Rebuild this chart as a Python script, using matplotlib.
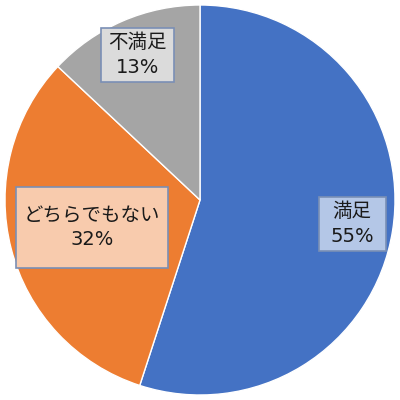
import numpy as np
import matplotlib.pyplot as plt

plt.rcParams['font.family'] = ['DejaVu Sans', 'Noto Sans CJK JP']

labels = ["満足", "どちらでもない", "不満足"]
values = [55, 32, 13]
colors = ["#4472C4", "#ED7D31", "#A5A5A5"]
box_colors = ["#B4C7E7", "#F8CBAD", "#DBDBDB"]
label_radius = [0.79, 0.57, 0.81]
# padding of each label box (horizontal pad, vertical stretch)
box_pad = [0.6, 0.4, 0.36]
box_aspect = [0.45, 2.4, 0.8]

fig = plt.figure(figsize=(4, 4), dpi=100)
ax = fig.add_axes([0, 0, 1, 1])

wedges, _ = ax.pie(values, colors=colors, startangle=90, counterclock=False,
                   radius=1, wedgeprops=dict(edgecolor="white", linewidth=1))

for w, lab, v, bc, r, p, a in zip(wedges, labels, values, box_colors,
                                  label_radius, box_pad, box_aspect):
    ang = np.deg2rad((w.theta1 + w.theta2) / 2)
    x, y = r * np.cos(ang), r * np.sin(ang)
    ax.text(x, y, f"{lab}\n{v}%", ha="center", va="center", fontsize=14,
            color="#1a1a1a", linespacing=1.35,
            bbox=dict(boxstyle=f"square,pad={p}", mutation_aspect=a,
                      facecolor=bc, edgecolor="#7A8FB5", linewidth=1.2))

lim = 200 / 195
ax.set_xlim(-lim, lim)
ax.set_ylim(-lim, lim)
ax.set_aspect("equal")
ax.axis("off")

fig.savefig("out.png", dpi=100, facecolor="white")
